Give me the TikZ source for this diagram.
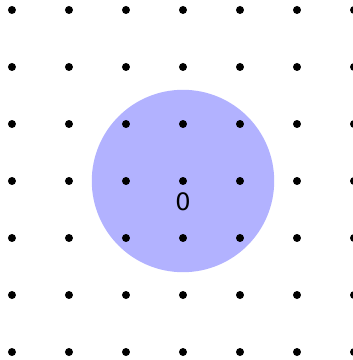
\documentclass[tikz,border=0pt]{standalone}
\usepackage{fontspec}
\setmainfont{DejaVu Sans}
\usetikzlibrary{positioning}

\begin{document}
\begin{tikzpicture}[
  pt/.style={circle, fill=black, inner sep=0pt, minimum size=1.4mm},
  disc/.style={fill=blue!30},
  lbl/.style={font=\fontsize{12}{14}\selectfont}]
\useasboundingbox (-3.21,-3.14) rectangle (2.965,3.175);
\fill[disc] (0,0) circle (1.6);
\foreach \x in {-3,...,3}
  \foreach \y in {-3,...,3}
    \node[pt] (p\x\y) at (\x,\y) {};
\node[lbl, below=0pt of p00] (zero) {0};
\end{tikzpicture}
\end{document}
